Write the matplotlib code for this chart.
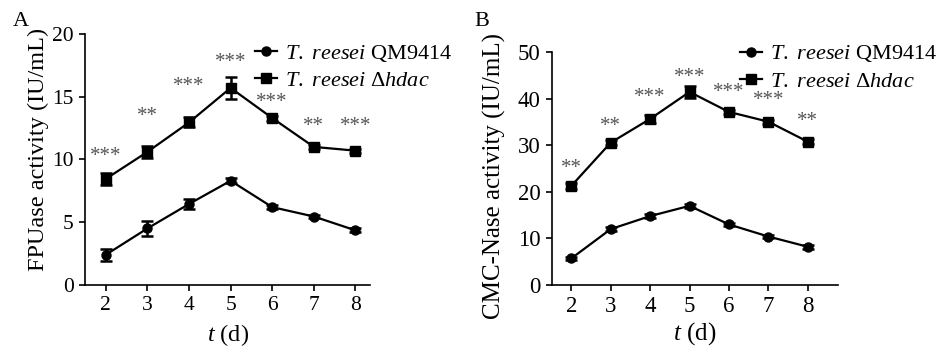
import matplotlib
matplotlib.use("Agg")
import matplotlib.pyplot as plt
from matplotlib.lines import Line2D

# Sampling days
days = [2, 3, 4, 5, 6, 7, 8]

# Panel A: FPUase activity (IU/mL)
fpuWild = [2.4, 4.5, 6.45, 8.3, 6.2, 5.45, 4.35]
fpuWildErr = [0.5, 0.6, 0.4, 0.2, 0.15, 0.15, 0.15]
fpuMutant = [8.45, 10.6, 12.95, 15.7, 13.3, 11.0, 10.7]
fpuMutantErr = [0.5, 0.5, 0.4, 0.9, 0.2, 0.15, 0.15]
fpuStars = ["***", "**", "***", "***", "***", "**", "***"]
fpuStarHeight = [10.25, 13.45, 15.85, 17.75, 14.55, 12.65, 12.65]

# Panel B: CMC-Nase activity (IU/mL)
cmcWild = [5.7, 12.0, 14.8, 17.0, 13.0, 10.4, 8.2]
cmcWildErr = [0.4, 0.5, 0.5, 0.4, 0.4, 0.3, 0.4]
cmcMutant = [21.3, 30.6, 35.7, 41.5, 37.2, 35.1, 30.8]
cmcMutantErr = [0.6, 0.6, 0.9, 1.3, 0.5, 0.4, 0.6]
cmcStars = ["**", "**", "***", "***", "***", "***", "**"]
cmcStarHeight = [25.1, 34.0, 40.4, 44.7, 41.4, 39.6, 35.1]

wildLabel = r"$\it{T.}$ $\it{reesei}$ QM9414"
mutantLabel = r"$\it{T.}$ $\it{reesei}$ $\mathrm{\Delta}\it{hdac}$"

plt.rcParams["font.family"] = "Liberation Serif"
plt.rcParams["mathtext.fontset"] = "custom"
plt.rcParams["mathtext.rm"] = "Liberation Serif"
plt.rcParams["mathtext.it"] = "Liberation Serif:italic"

legendSize = 16
starSize = 15
starColor = "#555555"


def DrawPanel(ax, wild, wildErr, mutant, mutantErr, stars, starHeight,
              ylabel, ymax, xmax, legendPos, tickSize, labelSize, ylabelPos,
              xlabelPad):
    ax.errorbar(days, wild, yerr=wildErr, color="black", marker="o",
                markersize=6.5, linewidth=1.6, capsize=4, capthick=1.8,
                elinewidth=1.8)
    ax.errorbar(days, mutant, yerr=mutantErr, color="black", marker="s",
                markersize=7.5, linewidth=1.6, capsize=4, capthick=1.8,
                elinewidth=1.8)
    for x, s, h in zip(days, stars, starHeight):
        ax.text(x, h, s, ha="center", va="center", fontsize=starSize,
                color=starColor)

    ax.set_xlim(1.5, xmax)
    ax.set_ylim(0, ymax)
    ax.set_xticks(days)
    ax.set_yticks(range(0, ymax + 1, 5 if ymax == 20 else 10))
    for side in ["top", "right"]:
        ax.spines[side].set_visible(False)
    for side in ["left", "bottom"]:
        ax.spines[side].set_linewidth(1.2)
    ax.tick_params(axis="both", labelsize=tickSize, length=4, width=1.2,
                   direction="out", pad=4)
    ax.set_ylabel(ylabel, fontsize=labelSize)
    ax.yaxis.set_label_coords(*ylabelPos)
    ax.set_xlabel(r"$\it{t}$ (d)", fontsize=labelSize, labelpad=xlabelPad)

    handles = [
        Line2D([], [], color="black", marker="o", markersize=6.5, linewidth=1.6),
        Line2D([], [], color="black", marker="s", markersize=7.5, linewidth=1.6),
    ]
    ax.legend(handles, [wildLabel, mutantLabel], loc="upper left",
              bbox_to_anchor=legendPos, frameon=False, fontsize=legendSize,
              handlelength=1.0, handletextpad=0.35, labelspacing=0.3,
              borderaxespad=0)


fig = plt.figure(figsize=(9.39, 3.47), dpi=100)
axA = fig.add_axes([0.0905, 0.179, 0.304, 0.723])
axB = fig.add_axes([0.5875, 0.179, 0.305, 0.670])

DrawPanel(axA, fpuWild, fpuWildErr, fpuMutant, fpuMutantErr, fpuStars,
          fpuStarHeight, "FPUase activity (IU/mL)", 20, 8.36, (0.565, 1.0),
          15.5, 17.5, (-0.125, 0.54), 5)
DrawPanel(axB, cmcWild, cmcWildErr, cmcMutant, cmcMutantErr, cmcStars,
          cmcStarHeight, "CMC-Nase activity (IU/mL)", 50, 8.77, (0.627, 1.077),
          16.5, 18, (-0.16, 0.47), 2)

fig.text(0.014, 0.925, "A", fontsize=16)
fig.text(0.505, 0.925, "B", fontsize=16)

fig.savefig("out.png", dpi=100)
